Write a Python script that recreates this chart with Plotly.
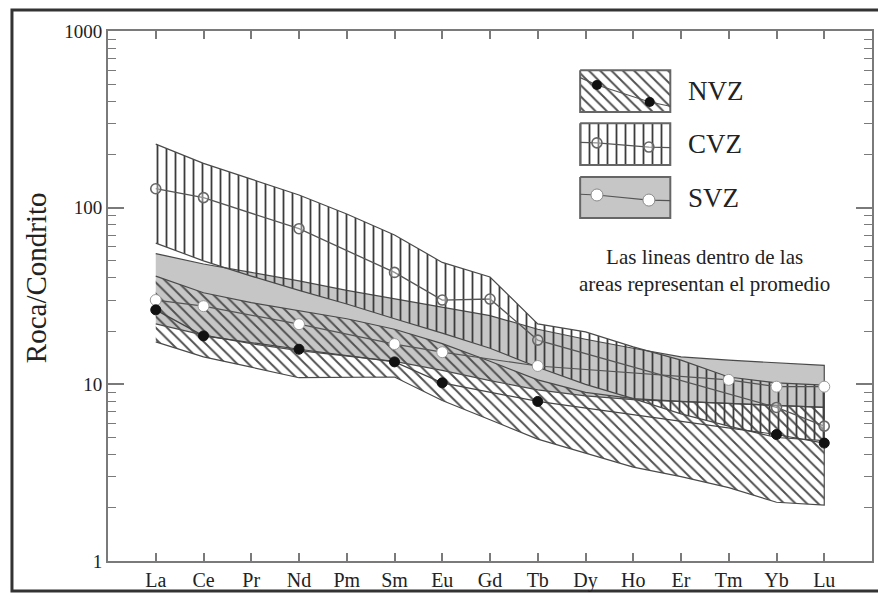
import plotly.graph_objects as go

# ---------------- data ----------------
ELEMENTS = ["La", "Ce", "Pr", "Nd", "Pm", "Sm", "Eu", "Gd", "Tb", "Dy", "Ho", "Er", "Tm", "Yb", "Lu"]
X_POS = list(range(1, len(ELEMENTS) + 1))

CVZ_TOP = [229, 178, 145, 118, 92, 70, 49, 40.5, 22, 19.8, 16.3, 13.7, 11, 10.2, 9.9]
CVZ_BOT = [63, 50, 41, 34, 28.5, 23.5, 19.5, 16, 12.5, 10, 8.3, 6.8, 5.8, 5.0, 4.8]
CVZ_MEAN = [128, 114, None, 76, None, 43, 30, 30.4, 17.8, None, None, None, None, 7.4, 5.8]

NVZ_TOP = [41, 33, 29, 26, 23.5, 20.5, 17, 13.5, 10.6, 9, 8.3, 8, 7.8, 7.6, 7.4]
NVZ_BOT = [17.4, 14.3, 12.5, 10.9, 10.9, 11, 8.1, 6.3, 4.9, 4.1, 3.4, 3.0, 2.6, 2.15, 2.07]
NVZ_MEAN = [26.4, 18.8, None, 15.8, None, 13.4, 10.2, None, 8.0, None, None, None, None, 5.2, 4.65]

SVZ_TOP = [55, 48, 43, 38.5, 34, 30.5, 27.5, 24.5, 20.5, 18, 16, 14.3, 13.7, 13.2, 12.8]
SVZ_BOT = [22, 19, 17, 15.5, 14.5, 13.5, 12, 10.5, 9.3, 8.6, 8.2, 8.0, 7.8, 7.6, 7.4]
SVZ_MEAN = [30, 27.7, None, 21.9, None, 16.9, 15.2, None, 12.7, None, None, None, 10.6, 9.7, 9.7]

Y_TICKS = [1, 10, 100, 1000]
Y_TICK_TEXT = ["1", "10", "100", "1000"]
SERIES_NAMES = ["NVZ", "CVZ", "SVZ"]
NOTE = "Las lineas dentro de las<br>areas representan el promedio"
Y_TITLE = "Roca/Condrito"

# minor tick values of the log axis (2..9 in each decade)
MINOR_TICKS = [m * d for d in (1, 10, 100) for m in range(2, 10)]

# ---------------- style ----------------
FONT = "Liberation Serif"
EDGE = "#4a4a4a"
AXIS = "#7a7a7a"
GREY_FILL = "#c6c6c6"

nvz_pattern = dict(shape="\\", size=8, solidity=0.24, fgcolor="#505050",
                   bgcolor="rgba(0,0,0,0)", fillmode="replace")
cvz_pattern = dict(shape="|", size=9, solidity=0.2, fgcolor="#3c3c3c",
                   bgcolor="rgba(0,0,0,0)", fillmode="replace")

fig = go.Figure()


def band(top, bot, **kw):
    xs = X_POS + X_POS[::-1]
    ys = top + bot[::-1]
    return go.Scatter(x=xs, y=ys, fill="toself", mode="lines",
                      line=dict(color=EDGE, width=1.2), hoverinfo="skip",
                      showlegend=False, **kw)


fig.add_trace(band(SVZ_TOP, SVZ_BOT, fillcolor=GREY_FILL))
fig.add_trace(band(NVZ_TOP, NVZ_BOT, fillpattern=nvz_pattern))
fig.add_trace(band(CVZ_TOP, CVZ_BOT, fillpattern=cvz_pattern))

# mean lines
fig.add_trace(go.Scatter(x=X_POS, y=CVZ_MEAN, mode="lines+markers", connectgaps=True,
                         line=dict(color="#555555", width=1.3),
                         marker=dict(symbol="circle", size=10, color="rgba(255,255,255,0.35)",
                                     line=dict(color="#666666", width=1.6)),
                         showlegend=False))
fig.add_trace(go.Scatter(x=X_POS, y=SVZ_MEAN, mode="lines+markers", connectgaps=True,
                         line=dict(color="#555555", width=1.2),
                         marker=dict(symbol="circle", size=11, color="white",
                                     line=dict(color="#9a9a9a", width=1)),
                         showlegend=False))
fig.add_trace(go.Scatter(x=X_POS, y=NVZ_MEAN, mode="lines+markers", connectgaps=True,
                         line=dict(color="#444444", width=1.2),
                         marker=dict(symbol="circle", size=10, color="#111111",
                                     line=dict(color="#111111", width=1)),
                         showlegend=False))

# ---------------- legend (drawn on an auxiliary 0-1 axis) ----------------
LEG_X0, LEG_X1 = 0.618, 0.736
LEG_BOXES = [(0.926, 0.847), (0.826, 0.747), (0.7245, 0.647)]
box_styles = [dict(fillpattern=nvz_pattern), dict(fillpattern=cvz_pattern), dict(fillcolor=GREY_FILL)]
for (yt, yb), st in zip(LEG_BOXES, box_styles):
    fig.add_trace(go.Scatter(x=[LEG_X0, LEG_X1, LEG_X1, LEG_X0, LEG_X0],
                             y=[yt, yt, yb, yb, yt], fill="toself", mode="lines",
                             line=dict(color="#666666", width=2), xaxis="x2", yaxis="y2",
                             hoverinfo="skip", showlegend=False, **st))

# legend sample lines + markers
fig.add_trace(go.Scatter(x=[LEG_X0, 0.640, 0.709, LEG_X1], y=[0.912, 0.898, 0.866, 0.858],
                         mode="lines", line=dict(color="#555555", width=1.2),
                         xaxis="x2", yaxis="y2", showlegend=False, hoverinfo="skip"))
fig.add_trace(go.Scatter(x=[0.640, 0.709], y=[0.898, 0.866], mode="markers",
                         marker=dict(size=10, color="#111111"),
                         xaxis="x2", yaxis="y2", showlegend=False, hoverinfo="skip"))
fig.add_trace(go.Scatter(x=[LEG_X0, 0.640, 0.708, LEG_X1], y=[0.790, 0.789, 0.781, 0.780],
                         mode="lines", line=dict(color="#555555", width=1.2),
                         xaxis="x2", yaxis="y2", showlegend=False, hoverinfo="skip"))
fig.add_trace(go.Scatter(x=[0.640, 0.708], y=[0.789, 0.781], mode="markers",
                         marker=dict(size=10, color="rgba(255,255,255,0.35)",
                                     line=dict(color="#666666", width=1.6)),
                         xaxis="x2", yaxis="y2", showlegend=False, hoverinfo="skip"))
fig.add_trace(go.Scatter(x=[LEG_X0, 0.640, 0.708, LEG_X1], y=[0.692, 0.6906, 0.681, 0.680],
                         mode="lines", line=dict(color="#555555", width=1.2),
                         xaxis="x2", yaxis="y2", showlegend=False, hoverinfo="skip"))
fig.add_trace(go.Scatter(x=[0.640, 0.708], y=[0.6906, 0.681], mode="markers",
                         marker=dict(size=12, color="white", line=dict(color="#8a8a8a", width=1)),
                         xaxis="x2", yaxis="y2", showlegend=False, hoverinfo="skip"))

annotations = []
for name, (yt, yb) in zip(SERIES_NAMES, LEG_BOXES):
    annotations.append(dict(x=0.757, y=(yt + yb) / 2, xref="paper", yref="paper",
                            text=name, showarrow=False, xanchor="left", yanchor="middle",
                            font=dict(family=FONT, size=27, color="#222222")))
annotations.append(dict(x=0.781, y=0.549, xref="paper", yref="paper", text=NOTE,
                        showarrow=False, xanchor="center", yanchor="middle", align="center",
                        font=dict(family=FONT, size=21, color="#222222")))
annotations.append(dict(x=-0.094, y=0.534, xref="paper", yref="paper", text=Y_TITLE,
                        showarrow=False, textangle=-90, xanchor="center", yanchor="middle",
                        font=dict(family=FONT, size=29, color="#222222")))

fig.update_layout(
    width=878, height=594,
    margin=dict(l=108, r=6, t=31, b=33, autoexpand=False),
    paper_bgcolor="white", plot_bgcolor="white",
    font=dict(family=FONT, color="#222222"),
    showlegend=False,
    annotations=annotations,
    xaxis=dict(range=[0, 16], tickvals=X_POS, ticktext=ELEMENTS,
               showgrid=False, zeroline=False, showline=True, linecolor=AXIS, linewidth=2,
               mirror="ticks", ticks="inside", ticklen=8, tickcolor=AXIS, tickwidth=1.5,
               tickfont=dict(family=FONT, size=20, color="#222222")),
    yaxis=dict(type="log", range=[0, 3], tickvals=Y_TICKS, ticktext=Y_TICK_TEXT,
               showgrid=False, zeroline=False, showline=True, linecolor=AXIS, linewidth=2,
               mirror="ticks", ticks="inside", ticklen=16, tickcolor=AXIS, tickwidth=1.5,
               tickfont=dict(family=FONT, size=19, color="#222222"),
               minor=dict(tickvals=MINOR_TICKS, ticks="inside", ticklen=8, tickcolor=AXIS,
                          tickwidth=1.2, showgrid=False)),
    xaxis2=dict(range=[0, 1], overlaying="x", visible=False, fixedrange=True),
    yaxis2=dict(range=[0, 1], overlaying="y", visible=False, fixedrange=True),
    shapes=[dict(type="rect", xref="paper", yref="paper", x0=-0.1257, x1=1.0105,
                 y0=-0.0566, y1=1.0396, line=dict(color="#333333", width=3), layer="below")],
)

fig.write_html("out.html", config={"displayModeBar": False},
               post_script="document.body.style.margin='0';document.body.style.overflow='hidden';")
